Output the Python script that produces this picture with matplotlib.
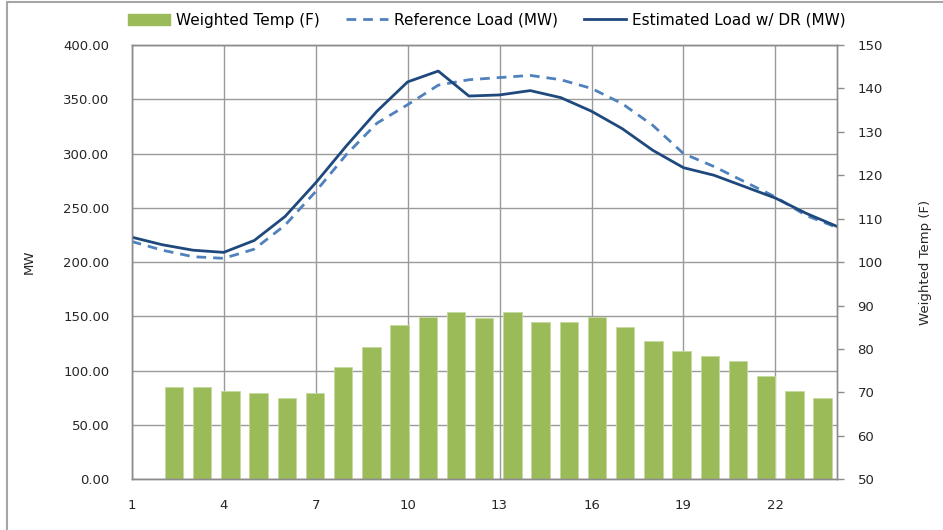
import numpy as np
import matplotlib
matplotlib.use("Agg")
import matplotlib.pyplot as plt
from matplotlib.patches import Patch
from matplotlib.lines import Line2D
from matplotlib.transforms import blended_transform_factory

# hourly data
hours = np.arange(1, 25)
ref_load = [219, 211, 205, 203.5, 212, 234, 265, 299, 328, 345, 363, 368,
            370, 372, 368, 360, 346, 326, 300, 288, 274, 260, 243, 232]
est_load = [223, 216, 211, 209, 220, 242, 273, 307, 339, 366, 376, 353,
            354, 358, 351.5, 339, 323, 303, 287, 280, 269.5, 259, 245, 233]
temp = [71.2, 71.2, 70.3, 69.9, 68.8, 69.9, 75.8, 80.4, 85.5, 87.4, 88.6, 87.1,
        88.6, 86.3, 86.3, 87.4, 85.1, 81.9, 79.6, 78.5, 77.3, 73.8, 70.3, 68.8]
# bars sit on their own category axis: 25 slots, first one left empty
bar_slots = np.arange(1, 25)
n_slots = 25

green = "#9BBB59"
dark_blue = "#1F497D"
light_blue = "#4F81BD"
grid_col = "#9a9a9a"
txt_col = "#262626"

fig = plt.figure(figsize=(9.43, 5.30), dpi=100)
ax = fig.add_axes([0.1397, 0.0957, 0.7476, 0.8194])
ax_r = ax.twinx()

ax.set_xlim(1, 24)
ax.set_ylim(0, 400)
ax_r.set_ylim(50, 150)

# temperature bars (x in axes fraction, y on the right scale)
trans = blended_transform_factory(ax.transAxes, ax_r.transData)
ax.bar((bar_slots + 0.5) / n_slots, np.array(temp) - 50, bottom=50,
       width=0.65 / n_slots, color=green, edgecolor="#c5d9a0", linewidth=0.6,
       transform=trans, zorder=2)

# load lines
ax.plot(hours, ref_load, color=light_blue, lw=2.0, dashes=(3.5, 2.5), zorder=3)
ax.plot(hours, est_load, color=dark_blue, lw=2.0, zorder=4)

# grid + axes styling
ax.set_axisbelow(True)
ax.grid(True, color=grid_col, lw=1.0)
ax.set_xticks(np.arange(1, 24, 3))
ax.set_yticks(np.arange(0, 401, 50))
ax.set_yticklabels([f"{v:.2f}" for v in np.arange(0, 401, 50)])
ax_r.set_yticks(np.arange(50, 151, 10))

for a in (ax, ax_r):
    for s in a.spines.values():
        s.set_color("#8c8c8c")
        s.set_linewidth(1.0)
ax.tick_params(axis="x", length=0, pad=14, labelsize=9.5, colors=txt_col)
ax.tick_params(axis="y", length=0, pad=16, labelsize=9.5, colors=txt_col)
ax_r.tick_params(axis="y", length=5, width=1, color="#8c8c8c", pad=10,
                 labelsize=9.5, colors=txt_col)
ax_r.tick_params(axis="y", color="#8c8c8c")

ax.set_ylabel("MW", fontsize=9.5, color=txt_col, labelpad=20)
ax_r.set_ylabel("Weighted Temp (F)", fontsize=9.5, color=txt_col, labelpad=26)

# legend on top
handles = [Patch(facecolor=green, edgecolor=green),
           Line2D([], [], color=light_blue, lw=2.0, dashes=(3.5, 2.5)),
           Line2D([], [], color=dark_blue, lw=2.0)]
labels = ["Weighted Temp (F)", "Reference Load (MW)", "Estimated Load w/ DR (MW)"]
fig.legend(handles, labels, loc="center", bbox_to_anchor=(0.516, 0.962), ncol=3,
           frameon=False, handlelength=2.75, columnspacing=1.7,
           handletextpad=0.4, prop={"size": 11})

# chart border (top and left edges visible)
fig.add_artist(Line2D([7 / 943, 7 / 943], [0, 1 - 2 / 530], color="#a6a6a6", lw=1.5))
fig.add_artist(Line2D([7 / 943, 1], [1 - 2 / 530, 1 - 2 / 530], color="#a6a6a6", lw=1.5))

fig.savefig("out.png", dpi=100)
